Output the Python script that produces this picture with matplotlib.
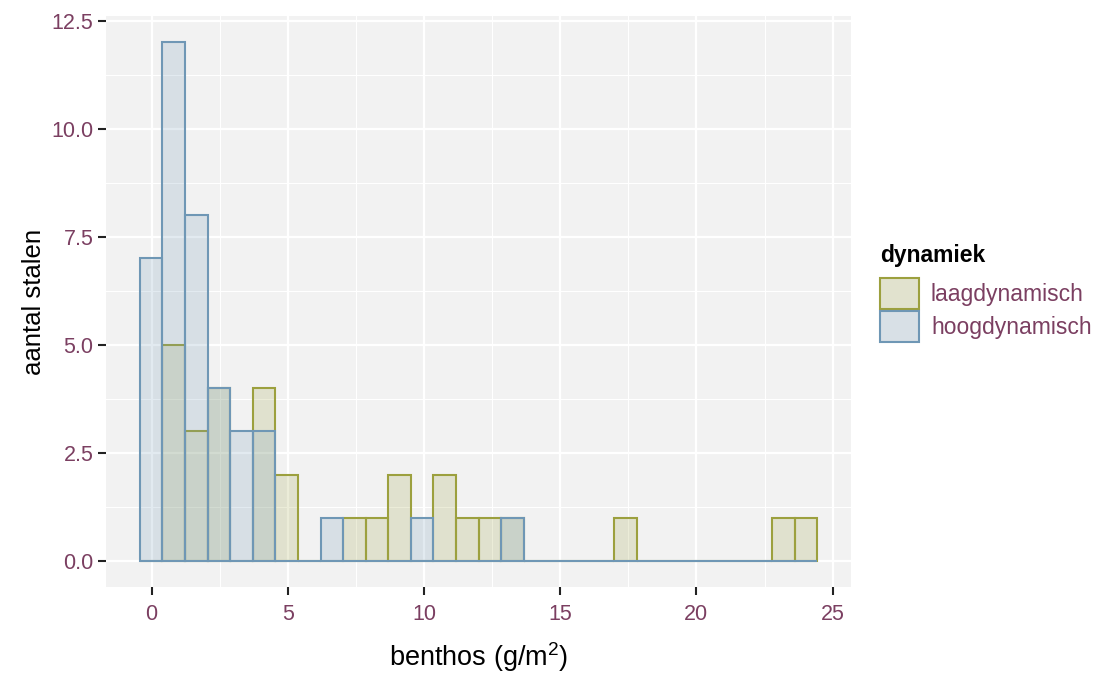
import numpy as np
import matplotlib
matplotlib.use('Agg')
from matplotlib import pyplot as plt
from matplotlib.patches import Patch
from matplotlib.colors import to_rgba

plt.rcParams['font.family'] = ['Liberation Sans', 'DejaVu Sans']
plt.rcParams['mathtext.fontset'] = 'custom'
plt.rcParams['mathtext.rm'] = 'Liberation Sans'
plt.rcParams['mathtext.default'] = 'regular'

# histogram of benthos biomass per sample, 30 bins
bin_start = -0.43
bin_width = 0.829
laag_counts = [0, 5, 3, 4, 0, 4, 2, 0, 0, 1, 1, 2, 0, 2, 1, 1, 1, 0, 0, 0,
               0, 1, 0, 0, 0, 0, 0, 0, 1, 1]
hoog_counts = [7, 12, 8, 4, 3, 3, 0, 0, 1, 0, 0, 0, 1, 0, 0, 0, 1, 0, 0, 0,
               0, 0, 0, 0, 0, 0, 0, 0, 0, 0]
groups = ['laagdynamisch', 'hoogdynamisch']
colours = ['#9ca03e', '#6f97b5']

x_ticks = [0, 5, 10, 15, 20, 25]
y_ticks = [0.0, 2.5, 5.0, 7.5, 10.0, 12.5]

label_col = '#7b3f61'
panel_bg = '#f2f2f2'

fig = plt.figure(figsize=(10.97, 6.75), dpi=100)
ax = fig.add_axes([0.0966, 0.1304, 0.6794, 0.8456])
ax.set_facecolor(panel_bg)

n_bins = len(hoog_counts)
lefts = bin_start + bin_width * np.arange(n_bins)
for counts, col in zip([laag_counts, hoog_counts], colours):
    ax.bar(lefts, counts, width=bin_width, align='edge',
           facecolor=to_rgba(col, 0.2), edgecolor=col, linewidth=1.5, zorder=3)

lo, hi = lefts[0], lefts[-1] + bin_width
pad = 0.05 * (hi - lo)
ax.set_xlim(lo - pad, hi + pad)
ax.set_ylim(-0.05 * max(hoog_counts), 1.05 * max(hoog_counts))

ax.set_xticks(x_ticks)
ax.set_xticklabels([str(t) for t in x_ticks])
ax.set_yticks(y_ticks)
ax.set_yticklabels([f'{t:.1f}' for t in y_ticks])
ax.set_xticks([2.5, 7.5, 12.5, 17.5, 22.5], minor=True)
ax.set_yticks([1.25, 3.75, 6.25, 8.75, 11.25], minor=True)
ax.grid(which='major', color='white', linewidth=1.6, zorder=0)
ax.grid(which='minor', color='white', linewidth=0.8, zorder=0)
ax.set_axisbelow(True)
for s in ax.spines.values():
    s.set_visible(False)
ax.tick_params(which='major', length=6, width=1.5, color='#222222',
               labelcolor=label_col, labelsize=15.5)
ax.tick_params(axis='y', which='major', pad=3)
ax.tick_params(axis='x', which='major', pad=6)
ax.tick_params(which='minor', length=0)

ax.set_xlabel('benthos (g/m$^2$)', fontsize=19.5)
ax.set_ylabel('aantal stalen', fontsize=18.5)
ax.xaxis.set_label_coords(0.5, -0.093)
ax.yaxis.set_label_coords(-0.08, 0.5)

bg = np.array(to_rgba(panel_bg))
handles = []
for g, col in zip(groups, colours):
    c = np.array(to_rgba(col))
    face = 0.2 * c + 0.8 * bg
    face[3] = 1.0
    handles.append(Patch(facecolor=face, edgecolor=col, linewidth=1.5, label=g))
fig.text(0.8022, 0.6119, 'dynamiek', fontsize=16.5, fontweight='bold',
         ha='left', va='baseline')
leg = fig.legend(handles=handles, loc='upper left', bbox_to_anchor=(0.8022, 0.5881),
                 frameon=False, fontsize=16.5, borderpad=0, borderaxespad=0,
                 handlelength=1.7, handleheight=1.7, handletextpad=0.52,
                 labelspacing=0.09)
for t in leg.get_texts():
    t.set_color(label_col)

fig.savefig('out.png', dpi=100)
